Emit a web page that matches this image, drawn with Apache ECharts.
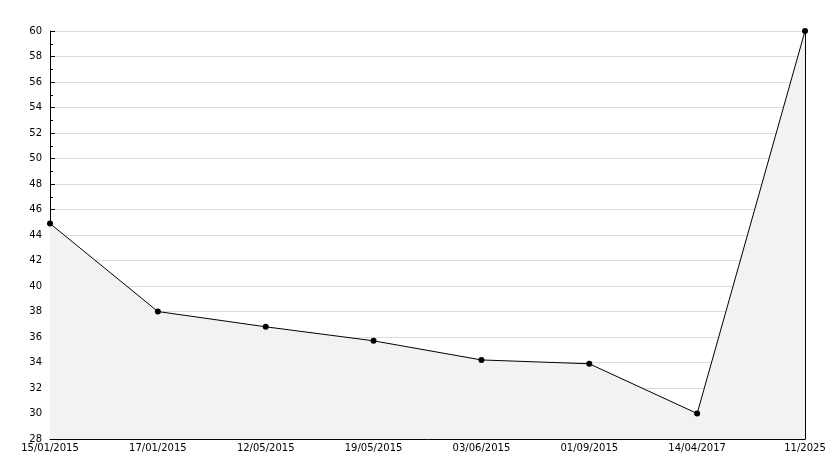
<!DOCTYPE html>
<html><head><meta charset="utf-8">
<script src="https://cdn.jsdelivr.net/npm/echarts@6/dist/echarts.min.js"></script>
<style>html,body{margin:0;padding:0;background:#fff}#c{width:834px;height:468px}</style>
</head><body><div id="c"></div>
<script>
const categories = ['15/01/2015','17/01/2015','12/05/2015','19/05/2015','03/06/2015','01/09/2015','14/04/2017','11/2025'];
const values = [44.9, 38.0, 36.8, 35.7, 34.2, 33.9, 30.0, 60.0];
const yMin = 28, yMax = 60, yStep = 2;

const chart = echarts.init(document.getElementById('c'), null, {renderer:'canvas'});
const font = 'DejaVu Sans';
chart.setOption({
  animation: false,
  grid: {left: 50, right: 29, top: 31, bottom: 29},
  xAxis: {
    type: 'category', data: categories, boundaryGap: false,
    axisLine: {lineStyle: {color: '#000', width: 1}},
    axisTick: {inside: true, length: 5, lineStyle: {color: '#000'}},
    axisLabel: {color: '#000', fontFamily: font, fontSize: 10, margin: 4, interval: 0},
    splitLine: {show: false}
  },
  yAxis: [{
    type: 'value', min: yMin, max: yMax, interval: yStep,
    axisLine: {show: true, lineStyle: {color: '#000', width: 1}},
    axisTick: {show: true, inside: true, length: 5, lineStyle: {color: '#000'}},
    minorTick: {show: true, splitNumber: 2, length: 3, lineStyle: {color: '#000'}},
    axisLabel: {color: '#000', fontFamily: font, fontSize: 10, margin: 8},
    splitLine: {show: true, lineStyle: {color: '#dcdcdc', width: 1}}
  },{
    type: 'value', min: yMin, max: yMax, interval: yStep, position: 'right',
    axisLine: {show: true, lineStyle: {color: '#000', width: 1}},
    axisTick: {show: false}, axisLabel: {show: false}, splitLine: {show: false}
  }],
  series: [{
    type: 'line', data: values, yAxisIndex: 0,
    lineStyle: {color: '#000', width: 1},
    itemStyle: {color: '#000'},
    symbol: 'circle', symbolSize: 6, showSymbol: true,
    areaStyle: {color: '#f2f2f2', opacity: 1, origin: 'start'}
  }]
});
</script></body></html>
